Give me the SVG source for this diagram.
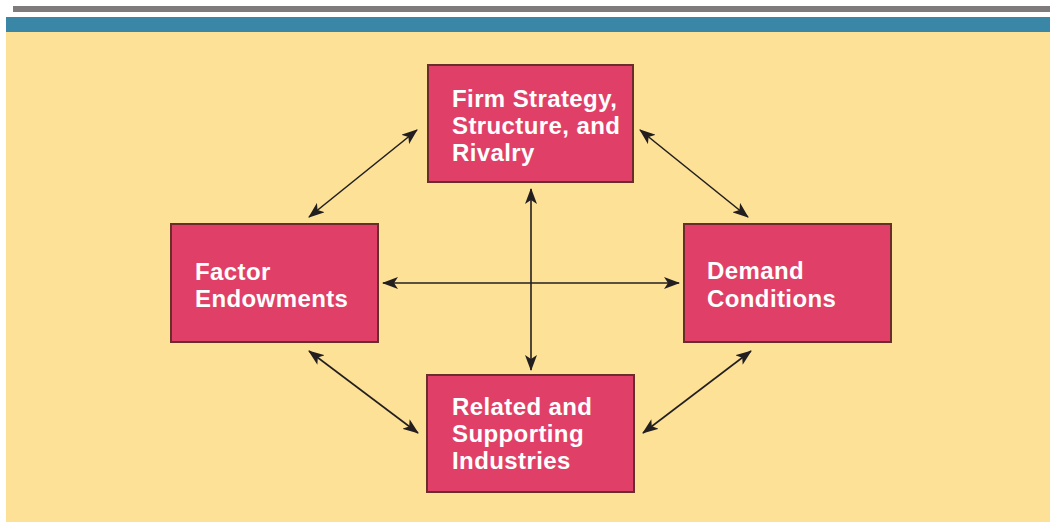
<svg xmlns="http://www.w3.org/2000/svg" width="1056" height="522" viewBox="0 0 1056 522">
<defs>
<style>
.box{fill:#E04068;stroke:#6B2C2C;stroke-width:2}
.lbl{font-family:"Liberation Sans",Arial,sans-serif;font-weight:bold;font-size:24px;letter-spacing:0.4px;fill:#FFFFFF}
.conn{stroke:#231F20;stroke-width:1.6;fill:none;marker-start:url(#ah);marker-end:url(#ah)}
</style>
<marker id="ah" viewBox="0 0 16 12" refX="15" refY="6" markerWidth="16" markerHeight="12" markerUnits="userSpaceOnUse" orient="auto-start-reverse">
<path d="M0,0 L16,6 L0,12 L4,6 Z" fill="#231F20"/>
</marker>
</defs>
<rect x="0" y="0" width="1056" height="522" fill="#FFFFFF"/>
<rect x="13" y="6" width="1037" height="6" fill="#7F7B7D"/>
<rect x="6" y="17" width="1044" height="15" fill="#3A86A6"/>
<rect x="6" y="32" width="1044" height="490" fill="#FCE197"/>

<g id="connectors">
<line class="conn" x1="383" y1="283" x2="679" y2="283"/>
<line class="conn" x1="531" y1="189" x2="531" y2="370"/>
<line class="conn" x1="417" y1="130" x2="309" y2="217"/>
<line class="conn" x1="640" y1="130" x2="748" y2="217"/>
<line class="conn" x1="309" y1="351" x2="418" y2="433"/>
<line class="conn" x1="751" y1="351" x2="643" y2="433"/>
</g>

<g id="firm">
<rect class="box" x="428" y="65" width="205" height="117"/>
<text class="lbl" x="452" y="107">Firm Strategy,</text>
<text class="lbl" x="452" y="134">Structure, and</text>
<text class="lbl" x="452" y="161">Rivalry</text>
</g>

<g id="factor">
<rect class="box" x="171" y="224" width="207" height="118"/>
<text class="lbl" x="195" y="280">Factor</text>
<text class="lbl" x="195" y="307">Endowments</text>
</g>

<g id="demand">
<rect class="box" x="684" y="224" width="207" height="118"/>
<text class="lbl" x="707" y="279">Demand</text>
<text class="lbl" x="707" y="307">Conditions</text>
</g>

<g id="related">
<rect class="box" x="427" y="375" width="207" height="117"/>
<text class="lbl" x="452" y="415">Related and</text>
<text class="lbl" x="452" y="442">Supporting</text>
<text class="lbl" x="452" y="469">Industries</text>
</g>
</svg>
